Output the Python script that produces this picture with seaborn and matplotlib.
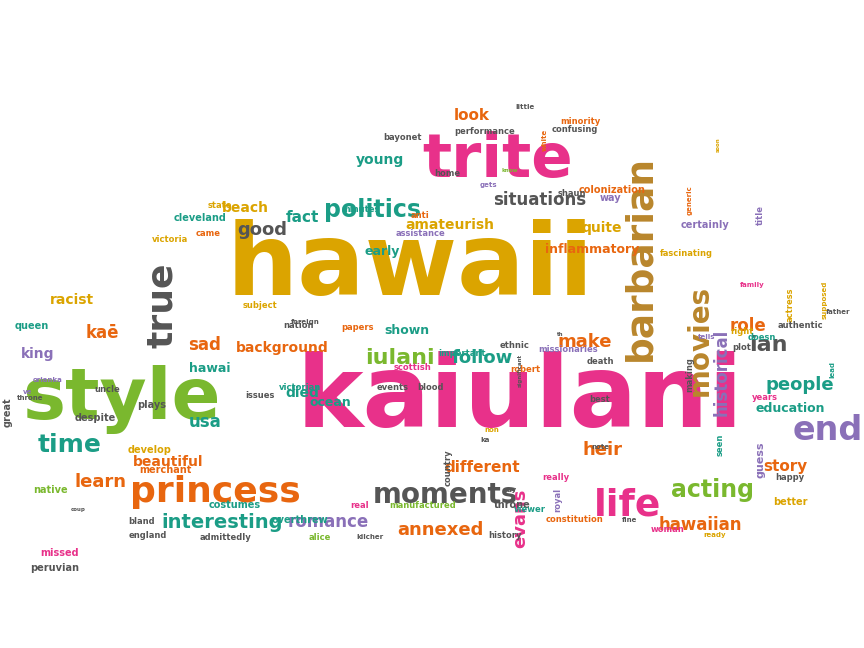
import matplotlib
matplotlib.use("Agg")
import matplotlib.pyplot as plt
import seaborn as sns

sns.set_theme(style="white")
plt.rcParams['font.family'] = ['DejaVu Sans']

PINK, GOLD, GREEN, ORANGE = "#e8318a", "#dba400", "#7ab82e", "#e8660f"
TEAL, GRAY, PURPLE, BROWN = "#1b9d86", "#555555", "#8a70b8", "#b9862c"

# word cloud data: word, x, y (pixel position), size (pt), colour, rotation
words = ["kaiulani", "hawaii", "trite", "style", "princess", "moments",
         "barbarian", "movies", "true", "politics", "acting", "life", "end",
         "time", "learn", "interesting", "romance", "annexed", "evans",
         "hawaiian", "different", "iulani", "follow", "make", "role", "ian",
         "people", "historical", "education", "story", "heir", "situations",
         "amateurish", "good", "fact", "beach", "look", "young", "early",
         "inflammatory", "quite", "sad", "background", "usa", "beautiful",
         "kaē", "racist", "died", "shown", "ocean", "hawai", "king", "queen",
         "victoria", "cleveland", "state", "guess", "overthrew", "costumes",
         "merchant", "develop", "despite", "plays", "uncle", "native",
         "great", "missed", "peruvian", "england", "admittedly", "bland",
         "alice", "kilcher", "real", "manufactured", "throne", "viewer",
         "history", "constitution", "fine", "woman", "ready", "better",
         "happy", "seen", "note", "royal", "really", "country", "events",
         "blood", "scottish", "robert", "death", "missionaries", "making",
         "years", "plot", "right", "tells", "actress", "authentic",
         "doesn", "lead", "father", "supposed", "family", "fascinating",
         "title", "certainly", "generic", "way", "colonization", "minority",
         "confusing", "little", "shaun", "gets", "home", "white",
         "performance", "bayonet", "anti", "minutes", "assistance", "came",
         "subject", "foreign", "nation", "papers", "important", "ethnic",
         "victorian", "issues", "best", "significant", "throne", "ve",
         "orianka", "coup", "say", "non", "ka", "th", "know", "soon",
         "give", "kingdom", "supporting"]
xs = [520, 410, 498, 122, 215, 445, 640, 700, 162, 372, 712, 628, 828,
      70, 100, 222, 328, 440, 520, 700, 482, 400, 482, 585, 748, 768,
      800, 722, 790, 785, 602, 540, 450, 262, 302, 245, 472, 380, 382,
      592, 602, 205, 282, 205, 168, 102, 72, 302, 407, 330, 210, 38, 32,
      170, 200, 220, 760, 300, 235, 165, 150, 95, 152, 107, 50, 8, 60,
      55, 148, 225, 142, 320, 370, 360, 423, 512, 530, 505, 575, 630,
      668, 715, 790, 790, 720, 600, 558, 556, 448, 393, 430, 413, 525,
      600, 568, 690, 765, 742, 742, 707, 790, 800, 762, 832, 838, 825,
      752, 686, 760, 705, 690, 610, 612, 580, 575, 525, 572, 488, 447,
      545, 485, 402, 420, 360, 420, 208, 260, 305, 298, 358, 462, 515,
      300, 260, 600, 520, 30, 28, 48, 78, 510, 492, 485, 560, 510, 718,
      385, 557]
ys = [400, 268, 160, 400, 492, 495, 258, 340, 305, 210, 490, 505, 430,
      445, 482, 522, 522, 530, 518, 525, 467, 358, 358, 342, 326, 345,
      385, 372, 408, 466, 450, 200, 225, 230, 218, 208, 115, 160, 252,
      249, 228, 345, 348, 422, 462, 333, 300, 393, 330, 402, 368, 354,
      326, 240, 218, 205, 460, 520, 505, 470, 450, 418, 405, 390, 490,
      412, 553, 568, 535, 538, 522, 537, 537, 505, 505, 505, 510, 535,
      520, 520, 530, 535, 502, 478, 445, 447, 500, 478, 468, 388, 388,
      368, 370, 362, 350, 375, 398, 348, 332, 337, 305, 325, 338, 370,
      312, 300, 285, 253, 215, 225, 200, 198, 190, 122, 130, 107, 193,
      185, 173, 140, 132, 137, 215, 210, 233, 233, 305, 322, 325, 327,
      353, 345, 387, 395, 400, 370, 398, 392, 380, 510, 490, 430, 440,
      335, 170, 145, 250, 145]
sizes = [72, 72, 44, 52, 26, 20, 27, 20, 26, 17, 17, 27, 24, 18, 13, 14,
         12, 13, 13, 12, 11, 16, 13, 13, 12, 16, 13, 12, 9, 11, 13, 12,
         10, 13, 11, 10, 11, 10, 9, 9, 10, 12, 10, 12, 10, 12, 10, 10,
         9, 9, 9, 10, 7, 6, 7, 6, 8, 7, 7, 7, 7, 7, 7, 6, 7, 7, 7, 7,
         6, 6, 6, 6, 5, 6, 6, 7, 6, 6, 6, 5, 6, 5, 7, 6, 6, 5, 6, 6, 6,
         6, 6, 6, 6, 6, 6, 6, 6, 6, 6, 5, 6, 6, 6, 5, 5, 5, 5, 6, 6, 7,
         5, 7, 7, 6, 6, 5, 6, 5, 6, 5, 6, 6, 6, 6, 6, 6, 6, 5, 6, 6, 6,
         6, 6, 6, 6, 4, 5, 5, 5, 4, 5, 5, 5, 4, 4, 4]
colors = [PINK, GOLD, PINK, GREEN, ORANGE, GRAY, BROWN, BROWN, GRAY, TEAL,
          GREEN, PINK, PURPLE, TEAL, ORANGE, TEAL, PURPLE, ORANGE, PINK,
          ORANGE, ORANGE, GREEN, TEAL, ORANGE, ORANGE, GRAY, TEAL, PURPLE,
          TEAL, ORANGE, ORANGE, GRAY, GOLD, GRAY, TEAL, GOLD, ORANGE, TEAL,
          TEAL, ORANGE, GOLD, ORANGE, ORANGE, TEAL, ORANGE, ORANGE, GOLD,
          TEAL, TEAL, TEAL, TEAL, PURPLE, TEAL, GOLD, TEAL, GOLD, PURPLE,
          TEAL, TEAL, ORANGE, GOLD, GRAY, GRAY, GRAY, GREEN, GRAY, PINK,
          GRAY, GRAY, GRAY, GRAY, GREEN, GRAY, PINK, GREEN, GRAY, TEAL,
          GRAY, ORANGE, GRAY, PINK, GOLD, GOLD, GRAY, TEAL, GRAY, PURPLE,
          PINK, GRAY, GRAY, GRAY, PINK, ORANGE, GRAY, PURPLE, GRAY, PINK,
          GRAY, GOLD, PURPLE, GOLD, GRAY, TEAL, TEAL, GRAY, GOLD, PINK,
          GOLD, PURPLE, PURPLE, ORANGE, PURPLE, ORANGE, ORANGE, GRAY, GRAY,
          GRAY, PURPLE, GRAY, ORANGE, GRAY, GRAY, ORANGE, TEAL, PURPLE,
          ORANGE, GOLD, GRAY, GRAY, ORANGE, TEAL, GRAY, TEAL, GRAY, GRAY,
          GRAY, GRAY, PURPLE, PURPLE, GRAY, GRAY, GOLD, GRAY, GRAY, GREEN,
          GOLD, ORANGE]
rots = [0, 0, 0, 0, 0, 0, 90, 90, 90, 0, 0, 0, 0, 0, 0, 0, 0, 0, 90, 0, 0,
        0, 0, 0, 0, 0, 0, 90, 0, 0, 0, 0, 0, 0, 0, 0, 0, 0, 0, 0, 0, 0, 0,
        0, 0, 0, 0, 0, 0, 0, 0, 0, 0, 0, 0, 0, 90, 0, 0, 0, 0, 0, 0, 0, 0,
        90, 0, 0, 0, 0, 0, 0, 0, 0, 0, 0, 0, 0, 0, 0, 0, 0, 0, 0, 90, 0, 90,
        0, 90, 0, 0, 0, 0, 0, 0, 90, 0, 0, 0, 0, 90, 0, 0, 90, 0, 90, 0, 0,
        90, 0, 90, 0, 0, 0, 0, 0, 0, 0, 0, 90, 0, 0, 0, 0, 0, 0, 0, 0, 0,
        0, 0, 0, 0, 0, 0, 90, 0, 0, 0, 0, 0, 0, 0, 0, 0, 90, 0, 0]

fig = plt.figure(figsize=(8.64, 6.48), dpi=100)
ax = fig.add_axes([0, 0, 1, 1])
ax.set_xlim(0, 864)
ax.set_ylim(648, 0)
ax.axis("off")

n = min(len(words), len(xs), len(ys), len(sizes), len(colors), len(rots))
for i in range(n):
    ax.text(xs[i], ys[i], words[i], fontsize=sizes[i], color=colors[i],
            rotation=rots[i], ha="center", va="center", fontweight="bold")

fig.savefig("out.png", dpi=100, facecolor="white")
